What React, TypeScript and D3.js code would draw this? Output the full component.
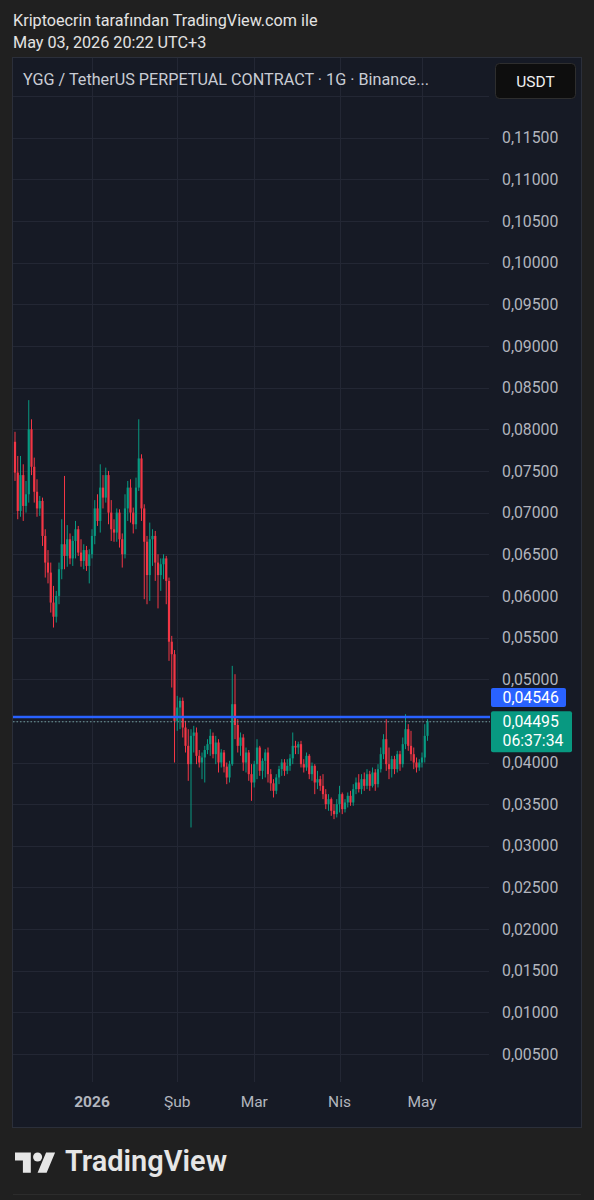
import React from 'react';
import * as d3 from 'd3';

// ---- data ----
const START_DATE = new Date(2025, 11, 4); // first daily candle (Dec 4, 2025)

const OPEN = [
  0.0785, 0.0748, 0.0702, 0.0745, 0.0708, 0.0722, 0.0800, 0.0755, 0.0725, 0.0705,
  0.0714, 0.0672, 0.0640, 0.0628, 0.0592, 0.0575, 0.0600, 0.0632, 0.0662, 0.0648,
  0.0668, 0.0645, 0.0666, 0.0680, 0.0652, 0.0642, 0.0655, 0.0636, 0.0650, 0.0672,
  0.0705, 0.0690, 0.0730, 0.0718, 0.0745, 0.0700, 0.0680, 0.0676, 0.0700, 0.0668,
  0.0650, 0.0705, 0.0730, 0.0700, 0.0686, 0.0730, 0.0765, 0.0705, 0.0665, 0.0625,
  0.0668, 0.0672, 0.0640, 0.0625, 0.0638, 0.0645, 0.0618, 0.0545, 0.0530, 0.0450,
  0.0466, 0.0474, 0.0442, 0.0420, 0.0398, 0.0432, 0.0436, 0.0408, 0.0400, 0.0406,
  0.0415, 0.0422, 0.0432, 0.0410, 0.0424, 0.0400, 0.0412, 0.0395, 0.0382, 0.0398,
  0.0470, 0.0445, 0.0420, 0.0430, 0.0400, 0.0412, 0.0386, 0.0376, 0.0398, 0.0418,
  0.0390, 0.0402, 0.0412, 0.0386, 0.0375, 0.0366, 0.0382, 0.0392, 0.0400, 0.0390,
  0.0396, 0.0405, 0.0420, 0.0418, 0.0422, 0.0398, 0.0394, 0.0408, 0.0386, 0.0396,
  0.0376, 0.0380, 0.0372, 0.0362, 0.0350, 0.0356, 0.0342, 0.0338, 0.0350, 0.0362,
  0.0344, 0.0352, 0.0360, 0.0352, 0.0368, 0.0376, 0.0368, 0.0380, 0.0372, 0.0386,
  0.0372, 0.0388, 0.0374, 0.0392, 0.0410, 0.0428, 0.0398, 0.0392, 0.0404, 0.0392,
  0.0410, 0.0398, 0.0422, 0.0440, 0.0420, 0.0410, 0.0400, 0.0394, 0.0400, 0.0406,
  0.0432,
];
const HIGH = [
  0.0797, 0.0768, 0.0768, 0.0758, 0.0738, 0.0835, 0.0812, 0.0766, 0.0740, 0.0720,
  0.0718, 0.0680, 0.0655, 0.0640, 0.0612, 0.0606, 0.0640, 0.0692, 0.0744, 0.0685,
  0.0675, 0.0672, 0.0690, 0.0684, 0.0668, 0.0662, 0.0660, 0.0656, 0.0680, 0.0715,
  0.0722, 0.0758, 0.0745, 0.0754, 0.0750, 0.0715, 0.0692, 0.0705, 0.0704, 0.0675,
  0.0722, 0.0738, 0.0740, 0.0706, 0.0742, 0.0812, 0.0770, 0.0710, 0.0672, 0.0688,
  0.0680, 0.0678, 0.0650, 0.0645, 0.0650, 0.0648, 0.0622, 0.0552, 0.0535, 0.0480,
  0.0478, 0.0478, 0.0450, 0.0440, 0.0440, 0.0444, 0.0442, 0.0415, 0.0412, 0.0420,
  0.0428, 0.0440, 0.0436, 0.0432, 0.0428, 0.0416, 0.0415, 0.0400, 0.0402, 0.0516,
  0.0506, 0.0452, 0.0436, 0.0434, 0.0418, 0.0415, 0.0398, 0.0402, 0.0428, 0.0420,
  0.0405, 0.0416, 0.0418, 0.0392, 0.0380, 0.0386, 0.0396, 0.0404, 0.0404, 0.0404,
  0.0410, 0.0436, 0.0426, 0.0425, 0.0426, 0.0404, 0.0412, 0.0410, 0.0400, 0.0398,
  0.0390, 0.0384, 0.0386, 0.0368, 0.0362, 0.0358, 0.0350, 0.0356, 0.0372, 0.0364,
  0.0356, 0.0364, 0.0366, 0.0374, 0.0382, 0.0386, 0.0386, 0.0388, 0.0392, 0.0390,
  0.0394, 0.0392, 0.0398, 0.0418, 0.0434, 0.0452, 0.0418, 0.0408, 0.0408, 0.0414,
  0.0414, 0.0430, 0.0458, 0.0446, 0.0438, 0.0418, 0.0406, 0.0404, 0.0412, 0.0446,
  0.0452,
];
const LOW = [
  0.0738, 0.0692, 0.0695, 0.0690, 0.0700, 0.0712, 0.0745, 0.0712, 0.0695, 0.0696,
  0.0660, 0.0622, 0.0615, 0.0580, 0.0562, 0.0568, 0.0590, 0.0620, 0.0632, 0.0635,
  0.0638, 0.0636, 0.0645, 0.0648, 0.0635, 0.0632, 0.0630, 0.0615, 0.0645, 0.0662,
  0.0684, 0.0676, 0.0705, 0.0712, 0.0686, 0.0666, 0.0665, 0.0665, 0.0658, 0.0634,
  0.0645, 0.0690, 0.0688, 0.0675, 0.0680, 0.0726, 0.0690, 0.0596, 0.0590, 0.0594,
  0.0636, 0.0618, 0.0585, 0.0606, 0.0620, 0.0590, 0.0522, 0.0490, 0.0400, 0.0438,
  0.0440, 0.0430, 0.0412, 0.0378, 0.0322, 0.0412, 0.0398, 0.0394, 0.0380, 0.0376,
  0.0410, 0.0408, 0.0405, 0.0398, 0.0388, 0.0394, 0.0388, 0.0374, 0.0376, 0.0396,
  0.0428, 0.0412, 0.0408, 0.0390, 0.0388, 0.0378, 0.0354, 0.0370, 0.0380, 0.0384,
  0.0380, 0.0382, 0.0376, 0.0366, 0.0358, 0.0362, 0.0374, 0.0384, 0.0384, 0.0386,
  0.0390, 0.0398, 0.0410, 0.0410, 0.0394, 0.0388, 0.0390, 0.0380, 0.0378, 0.0362,
  0.0368, 0.0366, 0.0356, 0.0344, 0.0342, 0.0336, 0.0332, 0.0334, 0.0340, 0.0338,
  0.0340, 0.0346, 0.0348, 0.0348, 0.0362, 0.0364, 0.0362, 0.0366, 0.0368, 0.0366,
  0.0370, 0.0366, 0.0370, 0.0388, 0.0404, 0.0390, 0.0380, 0.0382, 0.0386, 0.0388,
  0.0390, 0.0394, 0.0416, 0.0414, 0.0402, 0.0392, 0.0388, 0.0390, 0.0394, 0.0400,
  0.0426,
];
const CLOSE = [
  0.0748, 0.0702, 0.0745, 0.0708, 0.0722, 0.0800, 0.0755, 0.0725, 0.0705, 0.0714,
  0.0672, 0.0640, 0.0628, 0.0592, 0.0575, 0.0600, 0.0632, 0.0662, 0.0648, 0.0668,
  0.0645, 0.0666, 0.0680, 0.0652, 0.0642, 0.0655, 0.0636, 0.0650, 0.0672, 0.0705,
  0.0690, 0.0730, 0.0718, 0.0745, 0.0700, 0.0680, 0.0676, 0.0700, 0.0668, 0.0650,
  0.0705, 0.0730, 0.0700, 0.0686, 0.0730, 0.0765, 0.0705, 0.0665, 0.0625, 0.0668,
  0.0672, 0.0640, 0.0625, 0.0638, 0.0645, 0.0618, 0.0545, 0.0530, 0.0450, 0.0466,
  0.0474, 0.0442, 0.0420, 0.0398, 0.0432, 0.0436, 0.0408, 0.0400, 0.0406, 0.0415,
  0.0422, 0.0432, 0.0410, 0.0424, 0.0400, 0.0412, 0.0395, 0.0382, 0.0398, 0.0470,
  0.0445, 0.0420, 0.0430, 0.0400, 0.0412, 0.0386, 0.0376, 0.0398, 0.0418, 0.0390,
  0.0402, 0.0412, 0.0386, 0.0375, 0.0366, 0.0382, 0.0392, 0.0400, 0.0390, 0.0396,
  0.0405, 0.0420, 0.0418, 0.0422, 0.0398, 0.0394, 0.0408, 0.0386, 0.0396, 0.0376,
  0.0380, 0.0372, 0.0362, 0.0350, 0.0356, 0.0342, 0.0338, 0.0350, 0.0362, 0.0344,
  0.0352, 0.0360, 0.0352, 0.0368, 0.0376, 0.0368, 0.0380, 0.0372, 0.0386, 0.0372,
  0.0388, 0.0374, 0.0392, 0.0410, 0.0428, 0.0398, 0.0392, 0.0404, 0.0392, 0.0410,
  0.0398, 0.0422, 0.0440, 0.0420, 0.0410, 0.0400, 0.0394, 0.0400, 0.0406, 0.0432,
  0.04495,
];

const PRICE_TICKS = [
  0.115, 0.11, 0.105, 0.1, 0.095, 0.09, 0.085, 0.08, 0.075, 0.07, 0.065, 0.06,
  0.055, 0.05, 0.045, 0.04, 0.035, 0.03, 0.025, 0.02, 0.015, 0.01, 0.005,
];
const GRID_EXTRA = [0.12];
const TIME_TICK_DATES = [
  new Date(2026, 0, 1), new Date(2026, 1, 1), new Date(2026, 2, 1),
  new Date(2026, 3, 1), new Date(2026, 4, 1),
];
const TIME_TICK_LABELS = ['2026', 'Şub', 'Mar', 'Nis', 'May'];
const TIME_TICK_BOLD = [true, false, false, false, false];

const ALERT_PRICE = 0.04546;
const LAST_PRICE = 0.04495;
const COUNTDOWN = '06:37:34';

const HEADER_1 = 'Kriptoecrin tarafından TradingView.com ile';
const HEADER_2 = 'May 03, 2026 20:22 UTC+3';
const TITLE = 'YGG / TetherUS PERPETUAL CONTRACT · 1G · Binance...';
const CURRENCY = 'USDT';

// ---- styles ----
const W = 594;
const H = 1200;
const PAGE_BG = '#202020';
const PANE_BG = '#161a25';
const GRID = '#232734';
const TEXT = '#b2b5be';
const UP = '#089981';
const DOWN = '#f23645';
const BLUE = '#2962ff';
const FONT = 'Roboto, "Noto Sans", sans-serif';

const PANE = { x0: 13, x1: 581, y0: 58, y1: 1127 };
const PLOT_RIGHT = 489;

const fmt = (v: number) => d3.format('.5f')(v).replace('.', ',');

export default function App() {
  const x = d3
    .scaleTime()
    .domain([TIME_TICK_DATES[0], TIME_TICK_DATES[4]])
    .range([92, 422]);
  const y = d3.scaleLinear().domain([0.115, 0.005]).range([137.75, 1054.05]);

  const candles = CLOSE.map((c, i) => ({
    date: d3.timeDay.offset(START_DATE, i),
    o: OPEN[i],
    h: HIGH[i],
    l: LOW[i],
    c,
  }));

  const yAlert = y(ALERT_PRICE);
  const yLast = y(LAST_PRICE);

  return (
    <svg
      width={W}
      height={H}
      viewBox={`0 0 ${W} ${H}`}
      style={{ position: 'absolute', left: 0, top: 0, display: 'block' }}
      fontFamily={FONT}
    >
      <defs>
        <clipPath id="plotClip">
          <rect x={PANE.x0} y={PANE.y0} width={PLOT_RIGHT - PANE.x0} height={1082 - PANE.y0} />
        </clipPath>
      </defs>
      <rect x={0} y={0} width={W} height={H} fill={PAGE_BG} />

      {/* header */}
      <text x={13} y={26} fontSize={16.2} fill="#e3e3e3">{HEADER_1}</text>
      <text x={13} y={48} fontSize={16.2} fill="#e3e3e3">{HEADER_2}</text>

      {/* pane */}
      <rect
        x={PANE.x0 - 0.5}
        y={PANE.y0 - 0.5}
        width={PANE.x1 - PANE.x0 + 1}
        height={PANE.y1 - PANE.y0 + 1}
        fill={PANE_BG}
        stroke="#2b2f3a"
        strokeWidth={1}
      />

      {/* grid */}
      <g stroke={GRID} strokeWidth={1}>
        {[...GRID_EXTRA, ...PRICE_TICKS].map((p) => (
          <line key={'h' + p} x1={PANE.x0} x2={PLOT_RIGHT} y1={Math.round(y(p)) + 0.5} y2={Math.round(y(p)) + 0.5} />
        ))}
        {TIME_TICK_DATES.map((d, i) => (
          <line key={'v' + i} x1={Math.round(x(d)) + 0.5} x2={Math.round(x(d)) + 0.5} y1={PANE.y0} y2={1082} />
        ))}
      </g>

      {/* candles */}
      <g clipPath="url(#plotClip)">
        {candles.map((k, i) => {
          const cx = x(k.date);
          const col = k.c >= k.o ? UP : DOWN;
          const top = y(Math.max(k.o, k.c));
          const bot = y(Math.min(k.o, k.c));
          return (
            <g key={i}>
              <line x1={cx} x2={cx} y1={y(k.h)} y2={y(k.l)} stroke={col} strokeWidth={1} />
              <rect x={cx - 1.1} y={top} width={2.2} height={Math.max(1, bot - top)} fill={col} />
            </g>
          );
        })}
      </g>

      {/* alert line and last price line */}
      <line x1={PANE.x0} x2={PLOT_RIGHT + 1} y1={yAlert} y2={yAlert} stroke={BLUE} strokeWidth={2.6} />
      <line x1={PANE.x0} x2={PLOT_RIGHT + 1} y1={yLast + 0.5} y2={yLast + 0.5} stroke="#6f9c9c" strokeWidth={1} strokeDasharray="1.5,2" />

      {/* price axis labels */}
      {PRICE_TICKS.map((p) => (
        <text key={'t' + p} x={502} y={y(p)} dy="0.36em" fontSize={15.8} fill={TEXT}>
          {fmt(p)}
        </text>
      ))}

      {/* alert label */}
      <rect x={491} y={yAlert - 29} width={75} height={19} rx={2} fill={BLUE} />
      <text x={502.5} y={yAlert - 19.5} dy="0.36em" fontSize={15.8} fill="#ffffff">{fmt(ALERT_PRICE)}</text>

      {/* last price label */}
      <rect x={491} y={yLast - 10} width={81} height={41} rx={2} fill={UP} />
      <text x={502.5} y={yLast} dy="0.36em" fontSize={15.8} fill="#ffffff">{fmt(LAST_PRICE)}</text>
      <text x={502.5} y={yLast + 19} dy="0.36em" fontSize={15.8} fill="#ffffff">{COUNTDOWN}</text>

      {/* title + currency button */}
      <text x={23} y={79} dy="0.36em" fontSize={16.2} fill="#c9ccd4">{TITLE}</text>
      <rect x={495.5} y={63.5} width={80} height={35} rx={4} fill="#0e0e0e" stroke="#2e2e2e" />
      <text x={535.5} y={81} dy="0.36em" fontSize={15.5} fill="#f0f0f0" textAnchor="middle">{CURRENCY}</text>

      {/* time axis labels */}
      {TIME_TICK_DATES.map((d, i) => (
        <text
          key={'x' + i}
          x={x(d)}
          y={1101}
          dy="0.36em"
          fontSize={15.5}
          fontWeight={TIME_TICK_BOLD[i] ? 700 : 400}
          fill={TEXT}
          textAnchor="middle"
        >
          {TIME_TICK_LABELS[i]}
        </text>
      ))}

      {/* TradingView logo */}
      <g transform="translate(15,1148) scale(1.13)" fill="#e6e6e6">
        <path d="M14 22H7V11H0V4h14v18zM28 22h-8l7.5-18h8L28 22z" />
        <circle cx={20} cy={8} r={4} />
      </g>
      <text x={65} y={1171} fontSize={29} fontWeight={600} fill="#e6e6e6" textLength={162} lengthAdjust="spacingAndGlyphs">
        TradingView
      </text>
      <line x1={13} x2={581} y1={1194.5} y2={1194.5} stroke="#2c2c2c" />
    </svg>
  );
}
